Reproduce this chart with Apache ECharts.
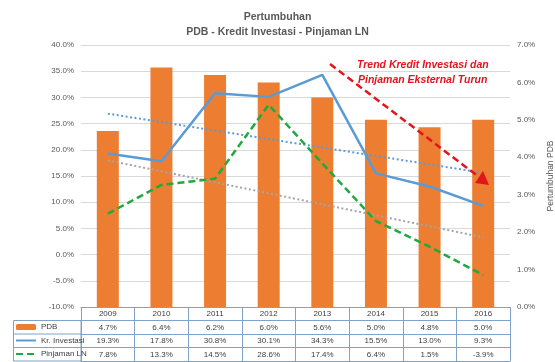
<!DOCTYPE html>
<html>
<head>
<meta charset="utf-8">
<script src="https://cdn.jsdelivr.net/npm/echarts@6/dist/echarts.min.js"></script>
<style>html,body{margin:0;padding:0;background:#fff;}#c{width:555px;height:362px;}</style>
</head>
<body>
<div id="c"></div>
<script>
var years = ['2009','2010','2011','2012','2013','2014','2015','2016'];
var pdb = [4.7, 6.4, 6.2, 6.0, 5.6, 5.0, 4.8, 5.0];
var kredit = [19.3, 17.8, 30.8, 30.1, 34.3, 15.5, 13.0, 9.3];
var pinjaman = [7.8, 13.3, 14.5, 28.6, 17.4, 6.4, 1.5, -3.9];
var kreditTrend = [26.9, null, null, null, null, null, null, 15.6];
var pinjamanTrend = [18.0, null, null, null, null, null, null, 3.3];
var leftTicks = {min: -10, max: 40, interval: 5};
var rightTicks = {min: 0, max: 7, interval: 1};

var FONT = 'Liberation Sans';
var GRAY = '#595959';
var BORDER = '#7fa3c6';
var ROW = 13.5;

function pct(v){ return Number(v).toFixed(1) + '%'; }

function rowAxis(offset, values, showLabel){
  return {
    type: 'category', data: years, position: 'bottom', offset: offset,
    axisLine: {show: true, onZero: false, lineStyle: {color: BORDER, width: 1}},
    axisTick: {show: false},
    axisLabel: {show: showLabel, interval: 0, margin: 3, fontSize: 8, fontFamily: FONT, color: '#404040',
      formatter: function(v, i){ return values ? pct(values[i]) : v; }},
    splitLine: {show: false}
  };
}

var chart = echarts.init(document.getElementById('c'));
var xAxes = [
  {
    type: 'category', data: years, position: 'bottom', offset: 0,
    axisLine: {show: true, onZero: false, lineStyle: {color: BORDER, width: 1}},
    axisTick: {show: true, interval: 0, length: ROW * 4, lineStyle: {color: BORDER, width: 1}},
    axisLabel: {interval: 0, margin: 3, fontSize: 8, fontFamily: FONT, color: '#404040'},
    splitLine: {show: false}
  },
  rowAxis(ROW, pdb, true),
  rowAxis(ROW * 2, kredit, true),
  rowAxis(ROW * 3, pinjaman, true),
  rowAxis(ROW * 4, null, false)
];

chart.setOption({
  animation: false,
  backgroundColor: '#fff',
  textStyle: {fontFamily: FONT},
  title: {
    text: 'Pertumbuhan\nPDB - Kredit Investasi - Pinjaman LN',
    left: 'center', top: 5,
    textStyle: {fontSize: 10.5, fontWeight: 'bold', color: GRAY, fontFamily: FONT, lineHeight: 15}
  },
  grid: {left: 81, right: 45, top: 45, bottom: 55, containLabel: false, outerBoundsMode: 'none'},
  legend: {
    orient: 'vertical', left: 15, top: 322, height: 60, padding: 0,
    data: [
      {name: 'PDB'},
      {name: 'Kr. Investasi', itemStyle: {opacity: 0}},
      {name: 'Pinjaman LN', itemStyle: {opacity: 0}}
    ],
    itemWidth: 20, itemHeight: 6, itemGap: 3.5,
    textStyle: {fontSize: 8, fontFamily: FONT, color: '#404040', lineHeight: 10},
    selectedMode: false
  },
  xAxis: xAxes,
  yAxis: [
    {
      type: 'value', min: leftTicks.min, max: leftTicks.max, interval: leftTicks.interval,
      axisLine: {show: false}, axisTick: {show: false},
      axisLabel: {formatter: pct, fontSize: 8, fontFamily: FONT, color: GRAY, margin: 7},
      splitLine: {lineStyle: {color: '#d9d9d9', width: 1}}
    },
    {
      type: 'value', min: rightTicks.min, max: rightTicks.max, interval: rightTicks.interval,
      position: 'right',
      axisLine: {show: false}, axisTick: {show: false},
      axisLabel: {formatter: pct, fontSize: 8, fontFamily: FONT, color: GRAY, margin: 7},
      splitLine: {show: false},
      name: 'Pertumbuhan PDB', nameLocation: 'middle', nameRotate: 90, nameGap: 29,
      nameTextStyle: {fontSize: 8.5, fontFamily: FONT, color: GRAY}
    }
  ],
  series: [
    {
      name: 'PDB', type: 'bar', data: pdb, yAxisIndex: 1, xAxisIndex: 0,
      barWidth: '41%', itemStyle: {color: '#ED7D31'}, z: 1
    },
    {
      name: 'Kr. Investasi', type: 'line', data: kredit, yAxisIndex: 0, xAxisIndex: 0,
      symbol: 'none', lineStyle: {color: '#5B9BD5', width: 2.5}, itemStyle: {color: '#5B9BD5'}, z: 3
    },
    {
      name: 'Pinjaman LN', type: 'line', data: pinjaman, yAxisIndex: 0, xAxisIndex: 0,
      symbol: 'none', lineStyle: {color: '#1DAA3E', width: 2.5, type: [7, 4]}, itemStyle: {color: '#1DAA3E'}, z: 3
    },
    {
      name: 'Trend Kr. Investasi', type: 'line', data: kreditTrend, connectNulls: true,
      yAxisIndex: 0, xAxisIndex: 0, symbol: 'none',
      lineStyle: {color: '#5B9BD5', width: 2, type: [2, 2.5]}, z: 2
    },
    {
      name: 'Trend Pinjaman LN', type: 'line', data: pinjamanTrend, connectNulls: true,
      yAxisIndex: 0, xAxisIndex: 0, symbol: 'none',
      lineStyle: {color: '#A5A5A5', width: 2, type: [2, 2.5]}, z: 2
    }
  ],
  graphic: [
    {type: 'rect', shape: {x: 13.5, y: 320.5, width: 67.5, height: ROW * 3}, style: {fill: 'none', stroke: BORDER, lineWidth: 1}, silent: true},
    {type: 'line', shape: {x1: 13.5, y1: 320.5 + ROW, x2: 81, y2: 320.5 + ROW}, style: {stroke: BORDER, lineWidth: 1}, silent: true},
    {type: 'line', shape: {x1: 13.5, y1: 320.5 + ROW * 2, x2: 81, y2: 320.5 + ROW * 2}, style: {stroke: BORDER, lineWidth: 1}, silent: true},
    {type: 'line', shape: {x1: 330, y1: 64, x2: 479, y2: 177}, style: {stroke: '#E3141C', lineWidth: 2.5, lineDash: [7, 4]}, silent: true, z: 100},
    {type: 'polygon', shape: {points: [[489, 185], [475, 183], [483, 171]]}, style: {fill: '#E3141C'}, silent: true, z: 100},
    {type: 'text', left: 357, top: 60, style: {text: 'Trend Kredit Investasi dan', fontSize: 10.5, fontWeight: 'bold', fontStyle: 'italic', fill: '#E3141C', fontFamily: FONT}, silent: true},
    {type: 'text', left: 358, top: 75, style: {text: 'Pinjaman Eksternal Turun', fontSize: 10.5, fontWeight: 'bold', fontStyle: 'italic', fill: '#E3141C', fontFamily: FONT}, silent: true}
  ]
});
</script>
</body>
</html>
